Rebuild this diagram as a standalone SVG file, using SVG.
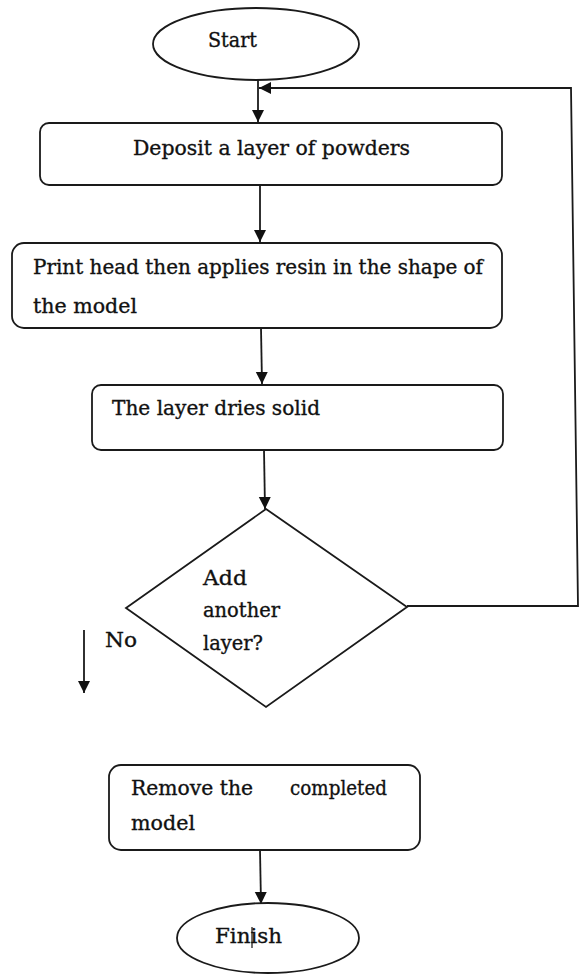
<svg xmlns="http://www.w3.org/2000/svg" width="581" height="975" viewBox="0 0 581 975">
  <style>
    .shape { fill: #ffffff; stroke: #1a1a1a; stroke-width: 1.8; }
    .link { fill: none; stroke: #1a1a1a; stroke-width: 1.8; }
    .label { font-family: "DejaVu Serif", serif; font-size: 20px; fill: #111111; stroke: #111111; stroke-width: 0.35; }
  </style>
  <defs>
    <marker id="arrow" markerUnits="userSpaceOnUse" markerWidth="12" markerHeight="14" refX="12" refY="6" orient="auto">
      <path d="M0,0 L12,6 L0,12 Z" fill="#111111"/>
    </marker>
  </defs>

  <rect width="581" height="975" fill="#ffffff"/>

  <!-- connectors -->
  <g id="connectors">
    <line class="link" x1="258" y1="80" x2="258" y2="122" marker-end="url(#arrow)"/>
    <line class="link" x1="260" y1="185" x2="260" y2="242" marker-end="url(#arrow)"/>
    <line class="link" x1="261" y1="328" x2="262" y2="384" marker-end="url(#arrow)"/>
    <line class="link" x1="264" y1="450" x2="265" y2="509" marker-end="url(#arrow)"/>
    <polyline class="link" points="407,606 578,606 571,88 259,88" marker-end="url(#arrow)"/>
    <line class="link" x1="84" y1="630" x2="84" y2="693" marker-end="url(#arrow)"/>
    <line class="link" x1="260" y1="850" x2="261" y2="904" marker-end="url(#arrow)"/>
  </g>

  <g id="start">
    <ellipse class="shape" cx="256" cy="44" rx="103" ry="36"/>
    <text class="label" x="208" y="47" textLength="49" lengthAdjust="spacingAndGlyphs">Start</text>
  </g>

  <g id="deposit">
    <rect class="shape" x="40" y="123" width="462" height="62" rx="9"/>
    <text class="label" x="133" y="155" textLength="277" lengthAdjust="spacingAndGlyphs">Deposit a layer of powders</text>
  </g>

  <g id="print">
    <rect class="shape" x="12" y="243" width="490" height="85" rx="12"/>
    <text class="label" x="33" y="274" textLength="450" lengthAdjust="spacingAndGlyphs">Print head then applies resin in the shape of</text>
    <text class="label" x="33" y="313" textLength="104" lengthAdjust="spacingAndGlyphs">the model</text>
  </g>

  <g id="dry">
    <rect class="shape" x="92" y="385" width="411" height="65" rx="9"/>
    <text class="label" x="112" y="415" textLength="208" lengthAdjust="spacingAndGlyphs">The layer dries solid</text>
  </g>

  <g id="decision">
    <polygon class="shape" points="266,509 407,607 266,707 126,608"/>
    <text class="label" x="203" y="585" textLength="44" lengthAdjust="spacingAndGlyphs">Add</text>
    <text class="label" x="203" y="617" textLength="77" lengthAdjust="spacingAndGlyphs">another</text>
    <text class="label" x="203" y="650" textLength="60" lengthAdjust="spacingAndGlyphs">layer?</text>
  </g>

  <g id="no-label">
    <text class="label" x="105" y="647" textLength="32" lengthAdjust="spacingAndGlyphs">No</text>
  </g>

  <g id="remove">
    <rect class="shape" x="109" y="765" width="311" height="85" rx="12"/>
    <text class="label" x="131" y="795" textLength="122" lengthAdjust="spacingAndGlyphs">Remove the</text>
    <text class="label" x="290" y="795" textLength="97" lengthAdjust="spacingAndGlyphs">completed</text>
    <text class="label" x="131" y="830" textLength="64" lengthAdjust="spacingAndGlyphs">model</text>
  </g>

  <g id="finish">
    <ellipse class="shape" cx="268" cy="938" rx="91" ry="35"/>
    <text class="label" x="215" y="943" textLength="67" lengthAdjust="spacingAndGlyphs">Finish</text>
    <line x1="252" y1="927" x2="252" y2="948" stroke="#111111" stroke-width="1.2"/>
  </g>
</svg>
